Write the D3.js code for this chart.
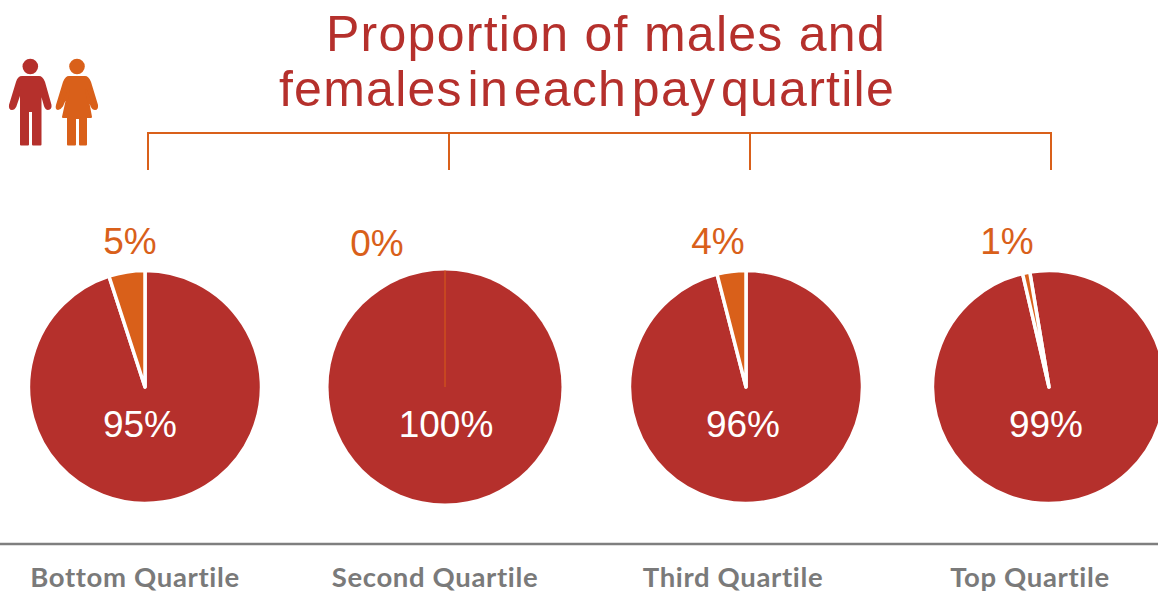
<!doctype html>
<html lang="en">
  <head>
    <meta charset="utf-8">
    <title>Proportion of males and females in each pay quartile</title>
    <style>
    html, body{
      margin: 0;
      padding: 0;
      background: #fff;
      overflow: hidden;
    }
    svg{
      display: block;
    }
    text{
      font-family: "Liberation Sans", Arial, sans-serif;
    }
    </style>
    <script src="https://cdn.jsdelivr.net/npm/d3@7"></script>
  </head>
  <body>
    <script>

    // values
    const quartiles = ["Bottom Quartile", "Second Quartile", "Third Quartile", "Top Quartile"];
    const malePct   = [95, 100, 96, 99];
    const femalePct = [5, 0, 4, 1];
    const titleLines = ["Proportion of males and", "females in each pay quartile"];

    // layout, per pie
    const pieX     = [145, 445, 746, 1049];
    const pieR     = [116.5, 116.5, 116.5, 116.5];
    const rotation = [0, 0, 0, -9.5];       // the top quartile pie is turned a little
    const maleLabelX   = [140, 446, 743, 1046];
    const femaleLabelX = [130, 377, 718, 1007];
    const nameX        = [135, 435, 733, 1030];

    const width = 1158, height = 593;
    const red = "#b5302c", orange = "#d9601a", grey = "#7f7f7f";

    const svg = d3.select("body").append("svg")
        .attr("width", width)
        .attr("height", height)
        .attr("viewBox", `0 0 ${width} ${height}`);

    // title
    svg.selectAll("text.title")
      .data(titleLines)
      .join("text")
      .attr("class", "title")
      .attr("x", (d, i) => i == 0 ? 606 : 587)
      .attr("y", (d, i) => i == 0 ? 51 : 106)
      .attr("text-anchor", "middle")
      .attr("fill", red)
      .style("font-size", "50px")
      .style("letter-spacing", "1.27px")
      .style("word-spacing", (d, i) => i == 0 ? "0px" : "-10.5px")
      .text(d => d);

    // little man and woman
    const icon = svg.append("g");
    icon.append("circle").attr("cx", 30.3).attr("cy", 66.5).attr("r", 7.8).attr("fill", red);
    icon.append("path")
      .attr("fill", red)
      .attr("stroke", red)
      .attr("stroke-width", 2)
      .attr("stroke-linejoin", "round")
      .attr("d", "M22,77 L39,77 Q42,77 44,82 L50.5,105 Q51,109 48,109 Q46,109 45,106 L40.5,90 L40.5,144.5 L33,144.5 L33,111 L28,111 L28,144.5 L21,144.5 L21,90 L15.5,106 Q14,109 12,109 Q9.5,109 10,105 L17,82 Q18.5,77 22,77 Z");
    icon.append("circle").attr("cx", 77).attr("cy", 66.5).attr("r", 7.8).attr("fill", orange);
    icon.append("path")
      .attr("fill", orange)
      .attr("stroke", orange)
      .attr("stroke-width", 2)
      .attr("stroke-linejoin", "round")
      .attr("d", "M69,77 L85,77 Q88,77 90,82 L97,105 Q97.5,109 95,109 Q93,109 91.5,106 L86,90 L91,117 L86,117 L86,144.5 L80,144.5 L80,118 L75,118 L75,144.5 L68,144.5 L68,117 L63,117 L69,90 L62,106 Q60,109 58,109 Q56,109 57,105 L64,82 Q66,77 69,77 Z");

    // bracket joining the four pies
    const bracketX = d3.scalePoint().domain(quartiles).range([148, 1051]);

    svg.append("line")
      .attr("x1", bracketX.range()[0] - 1).attr("x2", bracketX.range()[1] + 1)
      .attr("y1", 133).attr("y2", 133)
      .attr("stroke", orange).attr("stroke-width", 2);

    svg.selectAll("line.drop")
      .data(quartiles)
      .join("line")
      .attr("class", "drop")
      .attr("x1", d => bracketX(d)).attr("x2", d => bracketX(d))
      .attr("y1", 133).attr("y2", 170)
      .attr("stroke", orange).attr("stroke-width", 2);

    // pies
    const pie = d3.pie().sort(null).value(d => d.pct);
    const pieY = 387;

    quartiles.forEach(function(q, i){

      const slices = [
        {pct: malePct[i], color: red},
        {pct: femalePct[i], color: orange}
      ];
      const start = rotation[i] * Math.PI / 180;
      const arc = d3.arc().innerRadius(0).outerRadius(pieR[i]);

      const g = svg.append("g")
        .attr("transform", `translate(${pieX[i]},${pieY})`);

      pie.startAngle(start).endAngle(start + 2 * Math.PI);

      g.selectAll("path")
        .data(pie(slices))
        .join("path")
        .attr("d", arc)
        .attr("fill", d => d.data.color)
        .attr("stroke", d => {
          if(femalePct[i] > 0) return "#fff";
          return d.data.pct == 0 ? orange : "none";
        })
        .attr("stroke-width", d => femalePct[i] > 0 ? 3.5 : 0.6)
        .attr("stroke-linejoin", "round");

      svg.append("text")
        .attr("x", maleLabelX[i])
        .attr("y", 437)
        .attr("text-anchor", "middle")
        .attr("fill", "#fff")
        .style("font-size", "37px")
        .text(malePct[i] + "%");

      svg.append("text")
        .attr("x", femaleLabelX[i])
        .attr("y", i == 1 ? 256 : 254)
        .attr("text-anchor", "middle")
        .attr("fill", orange)
        .style("font-size", "37px")
        .text(femalePct[i] + "%");
    });

    // rule and quartile names along the bottom
    svg.append("line")
      .attr("x1", 0).attr("x2", width)
      .attr("y1", 544).attr("y2", 544)
      .attr("stroke", grey).attr("stroke-width", 2.4);

    svg.selectAll("text.quartile")
      .data(quartiles)
      .join("text")
      .attr("class", "quartile")
      .attr("x", (d, i) => nameX[i])
      .attr("y", 586.5)
      .attr("text-anchor", "middle")
      .attr("fill", "#7a7a7a")
      .style("font-family", "Lato, sans-serif")
      .style("font-weight", "700")
      .style("font-size", "27.5px")
      .style("letter-spacing", "0.65px")
      .text(d => d);

    </script>
  </body>
</html>
